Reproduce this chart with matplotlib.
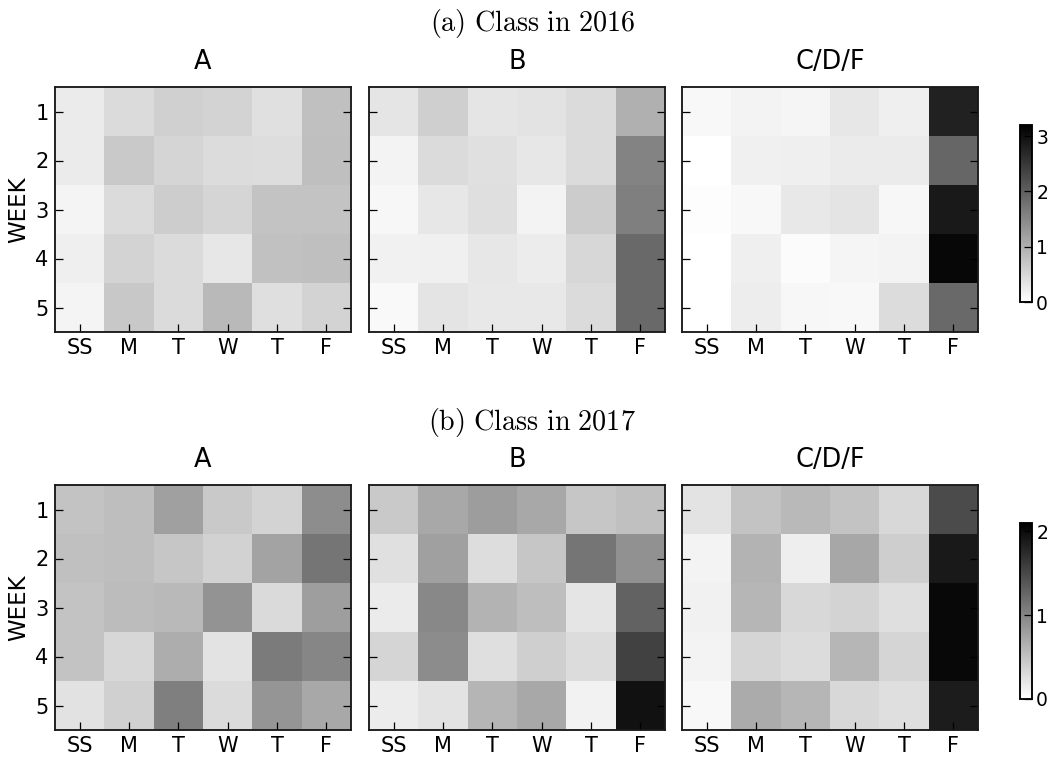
import numpy as np
import matplotlib
matplotlib.use("Agg")
import matplotlib.pyplot as plt
from matplotlib.colors import Normalize

plt.rcParams['font.family'] = ['DejaVu Sans']
plt.rcParams['mathtext.fontset'] = 'cm'

days = ["SS", "M", "T", "W", "T", "F"]
weeks = ["1", "2", "3", "4", "5"]
groups = ["A", "B", "C/D/F"]
row_titles = [r"$\mathrm{(a)\ Class\ in\ 2016}$", r"$\mathrm{(b)\ Class\ in\ 2017}$"]

# 2016
a16 = [[0.25, 0.46, 0.60, 0.55, 0.39, 0.79],
       [0.25, 0.68, 0.53, 0.44, 0.43, 0.80],
       [0.14, 0.45, 0.63, 0.53, 0.74, 0.74],
       [0.20, 0.54, 0.46, 0.31, 0.78, 0.80],
       [0.15, 0.69, 0.46, 0.88, 0.40, 0.54]]
b16 = [[0.33, 0.61, 0.33, 0.36, 0.45, 0.99],
       [0.16, 0.46, 0.39, 0.31, 0.46, 1.54],
       [0.10, 0.31, 0.40, 0.16, 0.64, 1.61],
       [0.18, 0.19, 0.31, 0.24, 0.51, 1.87],
       [0.08, 0.35, 0.29, 0.29, 0.46, 1.87]]
c16 = [[0.09, 0.16, 0.13, 0.31, 0.21, 2.77],
       [0.00, 0.19, 0.20, 0.25, 0.25, 1.92],
       [0.03, 0.09, 0.29, 0.34, 0.11, 2.87],
       [0.00, 0.21, 0.05, 0.13, 0.16, 3.10],
       [0.00, 0.23, 0.10, 0.09, 0.44, 1.87]]
# 2017
a17 = [[0.49, 0.54, 0.78, 0.45, 0.36, 0.94],
       [0.52, 0.54, 0.47, 0.37, 0.75, 1.14],
       [0.50, 0.55, 0.58, 0.89, 0.31, 0.80],
       [0.49, 0.33, 0.68, 0.23, 1.09, 1.00],
       [0.24, 0.39, 1.05, 0.30, 0.87, 0.72]]
b17 = [[0.45, 0.72, 0.81, 0.72, 0.47, 0.52],
       [0.26, 0.78, 0.28, 0.47, 1.14, 0.91],
       [0.17, 0.98, 0.63, 0.54, 0.22, 1.28],
       [0.35, 0.95, 0.27, 0.40, 0.29, 1.56],
       [0.16, 0.23, 0.61, 0.72, 0.11, 1.95]]
c17 = [[0.23, 0.49, 0.58, 0.50, 0.32, 1.48],
       [0.10, 0.63, 0.14, 0.73, 0.41, 1.88],
       [0.12, 0.60, 0.32, 0.36, 0.27, 2.03],
       [0.10, 0.35, 0.29, 0.60, 0.35, 2.03],
       [0.06, 0.69, 0.60, 0.32, 0.27, 1.87]]

rows = [[a16, b16, c16], [a17, b17, c17]]
vmaxes = [3.2, 2.1]
cbar_ticks = [[0, 1, 2, 3], [0, 1, 2]]

W, H = 1050, 757
fig = plt.figure(figsize=(W / 150, H / 150), dpi=150)

ax_left = [55, 369, 682]
ax_w = 296
ax_top = [87, 485]
ax_h = 245
cb_box = [(125, 302), (523, 699)]
title_base = [31, 430]

for r in range(2):
    norm = Normalize(vmin=0, vmax=vmaxes[r])
    im = None
    for c in range(3):
        ax = fig.add_axes([ax_left[c] / W, 1 - (ax_top[r] + ax_h) / H, ax_w / W, ax_h / H])
        im = ax.imshow(np.array(rows[r][c]), cmap='gray_r', norm=norm,
                       interpolation='nearest', aspect='auto')
        ax.set_xticks(range(len(days)))
        ax.set_xticklabels(days, fontsize=10)
        ax.set_yticks(range(len(weeks)))
        if c == 0:
            ax.set_yticklabels(weeks, fontsize=10)
        else:
            ax.set_yticklabels([])
        ax.tick_params(axis='both', direction='in', length=4, width=0.6, pad=3,
                       colors='black')
        ax.tick_params(axis='y', left=True, right=True)
        ax.tick_params(axis='x', bottom=True, top=False)
        for s in ax.spines.values():
            s.set_linewidth(0.9)
            s.set_color('#1a1a1a')
        ax.set_title(groups[c], fontsize=12.3, pad=8.7)
    # y label
    fig.text(19 / W, 1 - (ax_top[r] + ax_h / 2) / H, "WEEK", rotation=90,
             ha='center', va='center', fontsize=11)
    # row title
    fig.text(0.507, 1 - title_base[r] / H, row_titles[r], ha='center',
             va='baseline', fontsize=13.5)
    # colorbar
    t, b = cb_box[r]
    cax = fig.add_axes([1020 / W, 1 - b / H, 12 / W, (b - t) / H])
    cb = fig.colorbar(im, cax=cax, ticks=cbar_ticks[r])
    cb.ax.tick_params(direction='in', length=4, width=0.6, pad=2, labelsize=9)
    cb.outline.set_linewidth(0.9)

fig.savefig("out.png", dpi=150)
